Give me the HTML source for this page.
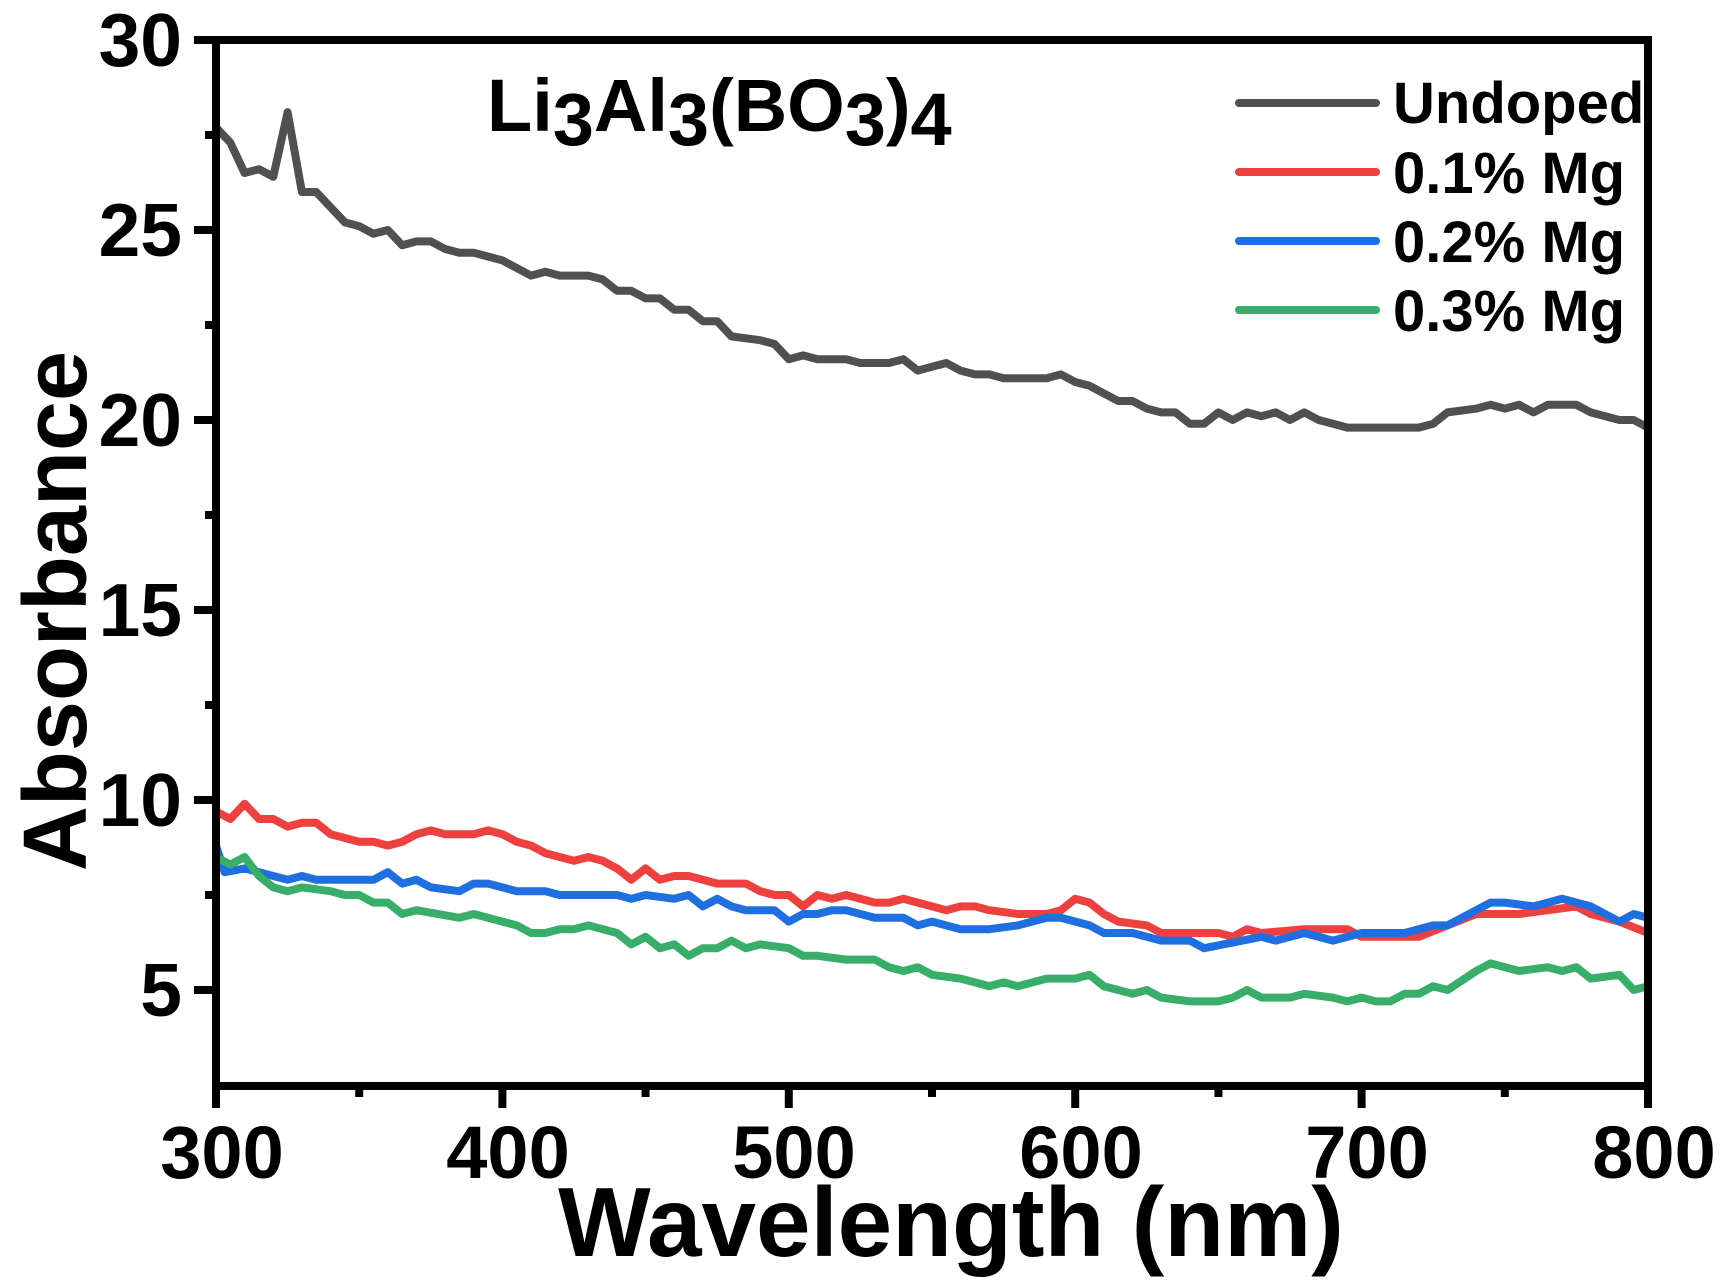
<!DOCTYPE html>
<html><head><meta charset="utf-8"><style>
html,body{margin:0;padding:0;background:#fff;}
svg{display:block;}
text{font-family:"Liberation Sans",Arial,sans-serif;font-weight:bold;fill:#000;}
</style></head><body>
<svg id="s" width="1728" height="1282" viewBox="0 0 1728 1282" xmlns="http://www.w3.org/2000/svg">
<g id="data"></g>
<rect x="216" y="40" width="1432" height="1046" fill="none" stroke="#000" stroke-width="8"/>
<g id="ticks" stroke="#000" stroke-width="8"></g>
<g font-size="75" text-anchor="end">
<text x="182" y="66">30</text>
<text x="182" y="256">25</text>
<text x="182" y="446">20</text>
<text x="182" y="636">15</text>
<text x="182" y="826">10</text>
<text x="182" y="1016">5</text>
</g>
<g font-size="74" text-anchor="middle">
<text x="222" y="1178">300</text>
<text x="508" y="1178">400</text>
<text x="794" y="1178">500</text>
<text x="1081" y="1178">600</text>
<text x="1367" y="1178">700</text>
<text x="1654" y="1178">800</text>
</g>
<text x="951" y="1256" font-size="98" text-anchor="middle">Wavelength (nm)</text>
<text transform="translate(86,611) rotate(-90)" font-size="90" text-anchor="middle">Absorbance</text>
<text x="487" y="131" font-size="74">Li<tspan dy="14">3</tspan><tspan dy="-14">Al</tspan><tspan dy="14">3</tspan><tspan dy="-14">(BO</tspan><tspan dy="14">3</tspan><tspan dy="-14">)</tspan><tspan dy="14">4</tspan></text>
<g stroke-width="8" stroke-linecap="round">
<line x1="1239" y1="103" x2="1376" y2="103" stroke="#505050"/>
<line x1="1239" y1="172" x2="1376" y2="172" stroke="#ef4040"/>
<line x1="1239" y1="241" x2="1376" y2="241" stroke="#1f6fe0"/>
<line x1="1239" y1="310" x2="1376" y2="310" stroke="#38ae6a"/>
</g>
<g font-size="58">
<text x="1393" y="123">Undoped</text>
<text x="1393" y="193">0.1% Mg</text>
<text x="1393" y="262">0.2% Mg</text>
<text x="1393" y="331">0.3% Mg</text>
</g>
</svg>
<script>
var X=function(w){return 216+(w-300)*2.864;},Y=function(v){return 40+(30-v)*38;};
var S=[
["#505050","300 27.7,305 27.3,310 26.5,315 26.6,320 26.4,325 28.1,330 26.0,335 26.0,340 25.6,345 25.2,350 25.1,355 24.9,360 25.0,365 24.6,370 24.7,375 24.7,380 24.5,385 24.4,390 24.4,400 24.2,410 23.8,415 23.9,420 23.8,430 23.8,435 23.7,440 23.4,445 23.4,450 23.2,455 23.2,460 22.9,465 22.9,470 22.6,475 22.6,480 22.2,490 22.1,495 22.0,500 21.6,505 21.7,510 21.6,520 21.6,525 21.5,535 21.5,540 21.6,545 21.3,550 21.4,555 21.5,560 21.3,565 21.2,570 21.2,575 21.1,590 21.1,595 21.2,600 21.0,605 20.9,610 20.7,615 20.5,620 20.5,625 20.3,630 20.2,635 20.2,640 19.9,645 19.9,650 20.2,655 20.0,660 20.2,665 20.1,670 20.2,675 20.0,680 20.2,685 20.0,690 19.9,695 19.8,720 19.8,725 19.9,730 20.2,740 20.3,745 20.4,750 20.3,755 20.4,760 20.2,765 20.4,775 20.4,780 20.2,790 20.0,795 20.0,800 19.8"],
["#ef4040","300 9.7,305 9.5,310 9.9,315 9.5,320 9.5,325 9.3,330 9.4,335 9.4,340 9.1,350 8.9,355 8.9,360 8.8,365 8.9,370 9.1,375 9.2,380 9.1,390 9.1,395 9.2,400 9.1,405 8.9,410 8.8,415 8.6,420 8.5,425 8.4,430 8.5,435 8.4,440 8.2,445 7.9,450 8.2,455 7.9,460 8.0,465 8.0,470 7.9,475 7.8,485 7.8,490 7.6,495 7.5,500 7.5,505 7.2,510 7.5,515 7.4,520 7.5,525 7.4,530 7.3,535 7.3,540 7.4,545 7.3,550 7.2,555 7.1,560 7.2,565 7.2,570 7.1,580 7.0,590 7.0,595 7.1,600 7.4,605 7.3,610 7.0,615 6.8,625 6.7,630 6.5,650 6.5,655 6.4,660 6.6,665 6.5,680 6.6,695 6.6,700 6.4,715 6.4,720 6.4,730 6.7,740 7.0,755 7.0,765 7.1,775 7.2,780 7.0,790 6.8,800 6.5"],
["#1f6fe0","300 8.8,303 8.1,310 8.2,315 8.1,320 8.0,325 7.9,330 8.0,335 7.9,355 7.9,360 8.1,365 7.8,370 7.9,375 7.7,385 7.6,390 7.8,395 7.8,405 7.6,415 7.6,420 7.5,440 7.5,445 7.4,450 7.5,460 7.4,465 7.5,470 7.2,475 7.4,480 7.2,485 7.1,495 7.1,500 6.8,505 7.0,510 7.0,515 7.1,520 7.1,530 6.9,540 6.9,545 6.7,550 6.8,560 6.6,570 6.6,580 6.7,590 6.9,595 6.9,605 6.7,610 6.5,620 6.5,630 6.3,640 6.3,645 6.1,665 6.4,670 6.3,680 6.5,690 6.3,700 6.5,715 6.5,725 6.7,730 6.7,745 7.3,750 7.3,760 7.2,765 7.3,770 7.4,780 7.2,790 6.8,795 7.0,800 6.9"],
["#38ae6a","300 8.5,305 8.3,310 8.5,315 8.0,320 7.7,325 7.6,330 7.7,340 7.6,345 7.5,350 7.5,355 7.3,360 7.3,365 7.0,370 7.1,385 6.9,390 7.0,405 6.7,410 6.5,415 6.5,420 6.6,425 6.6,430 6.7,440 6.5,445 6.2,450 6.4,455 6.1,460 6.2,465 5.9,470 6.1,475 6.1,480 6.3,485 6.1,490 6.2,500 6.1,505 5.9,510 5.9,520 5.8,530 5.8,535 5.6,540 5.5,545 5.6,550 5.4,560 5.3,565 5.2,570 5.1,575 5.2,580 5.1,590 5.3,600 5.3,605 5.4,610 5.1,620 4.9,625 5.0,630 4.8,640 4.7,650 4.7,655 4.8,660 5.0,665 4.8,675 4.8,680 4.9,690 4.8,695 4.7,700 4.8,705 4.7,710 4.7,715 4.9,720 4.9,725 5.1,730 5.0,740 5.5,745 5.7,755 5.5,765 5.6,770 5.5,775 5.6,780 5.3,790 5.4,795 5.0,800 5.1"]];
var ns="http://www.w3.org/2000/svg",g=document.getElementById("data");
S.forEach(function(s){var pts=s[1].split(",").map(function(p){var a=p.trim().split(" ");return X(+a[0]).toFixed(1)+","+Y(+a[1]).toFixed(1);});
var pl=document.createElementNS(ns,"polyline");pl.setAttribute("points",pts.join(" "));pl.setAttribute("fill","none");pl.setAttribute("stroke",s[0]);pl.setAttribute("stroke-width","8");pl.setAttribute("stroke-linejoin","round");g.appendChild(pl);});
var t=document.getElementById("ticks");
function L(a,b,c,d){var l=document.createElementNS(ns,"line");l.setAttribute("x1",a);l.setAttribute("y1",b);l.setAttribute("x2",c);l.setAttribute("y2",d);t.appendChild(l);}
for(var w=300;w<=800;w+=50){var x=X(w);L(x,1086,x,(w%100==0)?1108:1097);}
for(var v=5;v<=30;v+=2.5){var y=Y(v);L(216,y,(v%5==0)?194:205,y);}
</script>
</body></html>
